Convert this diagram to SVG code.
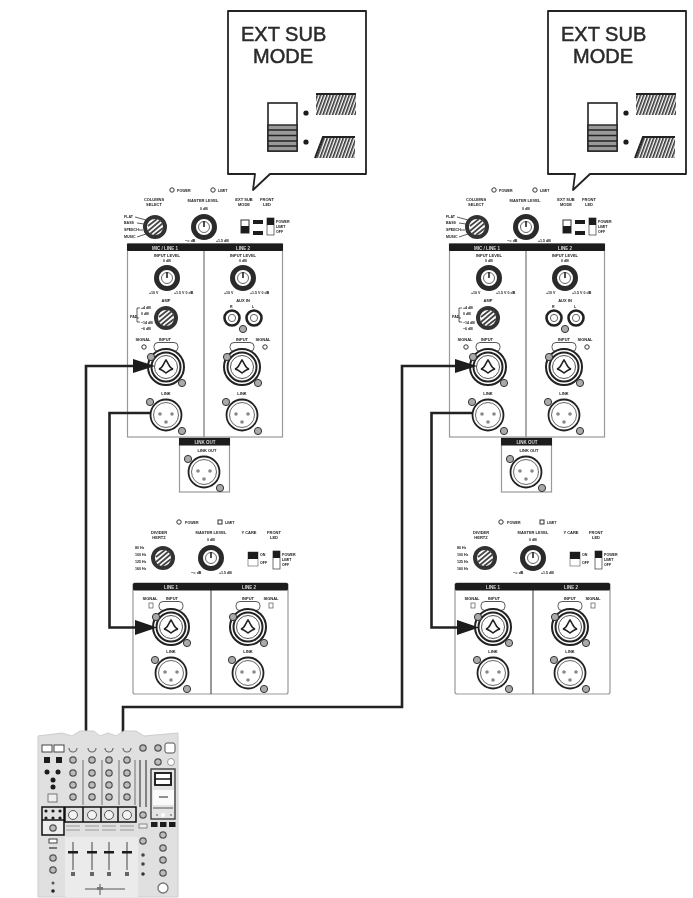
<svg xmlns="http://www.w3.org/2000/svg" width="693" height="898" viewBox="0 0 693 898">
<style>
text{font-family:"Liberation Sans",Arial,sans-serif;fill:#222}
.t{font-size:4px;font-weight:bold;text-anchor:middle}
.l{font-size:3.6px;font-weight:bold}
.w{font-size:4.5px;font-weight:bold;text-anchor:middle;fill:#ddd}
.h{font-size:20px;fill:#2a2a2a;stroke:#2a2a2a;stroke-width:.5}
.wire{fill:none;stroke:#222;stroke-width:2.6}
.box{fill:#fff;stroke:#999;stroke-width:1.2}
.ln{fill:none;stroke:#333;stroke-width:.8}
.bk{fill:#1a1a1a}
</style>
<defs>
<filter id="soft" x="-5%" y="-5%" width="110%" height="110%"><feGaussianBlur stdDeviation="0.55"/></filter>
<filter id="mild" x="-5%" y="-5%" width="110%" height="110%"><feGaussianBlur stdDeviation="0.35"/></filter>
<pattern id="hatch" width="3" height="3" patternUnits="userSpaceOnUse" patternTransform="rotate(20)"><rect width="3" height="3" fill="#fff"/><rect width="1.6" height="3" fill="#333"/></pattern>
<g id="knobA"><circle r="10.5" fill="#fff" stroke="#2a2a2a" stroke-width="5"/><circle r="5.5" fill="#fff" stroke="#666" stroke-width="1"/><path d="M0-6V0" stroke="#222" stroke-width="1.6"/></g>
<g id="knobS"><circle r="10" fill="#fff" stroke="#333" stroke-width="4"/><path d="M-7 4L6-7M-5 7L8-4M-7-1L2-8M-1 8L8 1" stroke="#444" stroke-width="1.7"/></g>
<g id="screw"><circle r="3.6" fill="#aaa" stroke="#333" stroke-width="1"/></g>
<g id="combo">
<circle r="18" fill="#fff" stroke="#222" stroke-width="2"/><circle r="14.5" fill="#fff" stroke="#222" stroke-width="2"/><circle r="11.5" fill="#fff" stroke="#555" stroke-width="1"/>
<path d="M-7 2C-3 1-3-3 0-7C3-3 3 1 7 2C3 3 2 5 0 6C-2 5-3 3-7 2Z" fill="#fff" stroke="#222" stroke-width="1.5"/>
<use href="#screw" x="-15" y="-10"/><use href="#screw" x="16" y="16"/></g>
<g id="xlr">
<circle r="15.5" fill="#fff" stroke="#222" stroke-width="1.8"/><circle r="12.5" fill="#fff" stroke="#666" stroke-width="1"/>
<circle cx="-6" cy="-1" r="1.8" fill="#888"/><circle cx="6" cy="-1" r="1.8" fill="#888"/><circle cy="7" r="1.8" fill="#888"/>
<use href="#screw" x="-16" y="-13"/><use href="#screw" x="16" y="16"/></g>
<g id="rca"><circle r="7.5" fill="#fff" stroke="#222" stroke-width="2.6"/><circle r="3.6" fill="#fff" stroke="#666" stroke-width="1"/></g>
<rect id="oval" x="-12" y="-4.5" width="24" height="9" rx="4" fill="#fff" stroke="#555" stroke-width="1"/>
<g id="led"><circle r="2.2" fill="#fff" stroke="#333" stroke-width="1"/></g>
<g id="callout">
<path d="M228 11H366V174H270L253 190L255 174H228Z" fill="#fff" stroke="#222" stroke-width="1.8" stroke-linejoin="round"/>
<text class="h" x="241" y="41">EXT SUB</text><text class="h" x="253" y="63">MODE</text>
<rect x="268" y="103" width="29" height="48" fill="#fff" stroke="#222" stroke-width="1.6"/>
<rect x="268" y="125" width="29" height="26" fill="#999" stroke="#222" stroke-width="1.4"/>
<path d="M268 130H297M268 135.500H297M268 141H297M268 146H297" stroke="#222" stroke-width="1.3"/>
<circle cx="306" cy="113" r="2.600" class="bk"/><circle cx="306" cy="142" r="2.600" class="bk"/>
<path d="M316 94H356V115H316Z" fill="url(#hatch)"/><path d="M316 94H356" stroke="#222" stroke-width="2"/>
<path d="M323 137H355V158H315Z" fill="url(#hatch)"/><path d="M355 137H323L315 158" fill="none" stroke="#222" stroke-width="2"/>
</g>
<g id="rig">
<g filter="url(#soft)">
<use href="#led" x="172" y="190"/><text class="l" x="177" y="191.500">POWER</text>
<use href="#led" x="213" y="190"/><text class="l" x="218" y="191.500">LIMIT</text>
<text class="t" x="154" y="201">COLUMNS</text><text class="t" x="154" y="206">SELECT</text>
<text class="l" x="124" y="218">FLAT</text><text class="l" x="124" y="224">BASS</text><text class="l" x="124" y="231">SPEECH</text><text class="l" x="124" y="238">MUSIC</text>
<path class="ln" d="M135 217L146 220M137 223L144 224M139 230L143 230M137 237L146 234"/>
<use href="#knobS" x="155" y="227"/>
<text class="t" x="203" y="202">MASTER LEVEL</text><text class="l" x="200" y="210">0 dB</text>
<use href="#knobA" x="204" y="227"/>
<text class="l" x="185" y="242">−∞ dB</text><text class="l" x="216" y="242">+1.5 dB</text>
<text class="t" x="244" y="201">EXT SUB</text><text class="t" x="244" y="206">MODE</text>
<text class="t" x="267" y="201">FRONT</text><text class="t" x="267" y="206">LED</text>
<rect x="241" y="220" width="8" height="13" fill="#fff" stroke="#333"/><rect x="241" y="226" width="8" height="7" class="bk"/>
<rect x="253" y="220" width="10" height="4" class="bk"/><rect x="253" y="231" width="10" height="4" class="bk"/>
<rect x="267" y="218" width="7" height="17" fill="#fff" stroke="#333" stroke-width=".7"/><rect x="267" y="218" width="7" height="7" class="bk"/>
<text class="l" x="276" y="223">POWER</text><text class="l" x="276" y="228">LIMIT</text><text class="l" x="276" y="233">OFF</text>
</g>
<g filter="url(#soft)">
<rect class="box" x="127.500" y="244" width="155" height="193"/>
<path d="M204 244V437" stroke="#888" stroke-width="1.400"/>
<rect x="127" y="243.500" width="156" height="7.500" rx="1" class="bk"/>
<text class="w" x="165" y="249.500">MIC / LINE 1</text><text class="w" x="243" y="249.500">LINE 2</text>
<text class="t" x="167" y="256.500">INPUT LEVEL</text><text class="l" x="163" y="262">0 dB</text>
<use href="#knobA" x="167" y="278"/>
<text class="l" x="149" y="294">+10 V</text><text class="l" x="174" y="294">+1.5 V 0 dB</text>
<text class="t" x="243" y="256.500">INPUT LEVEL</text><text class="l" x="239" y="262">0 dB</text>
<use href="#knobA" x="243" y="278"/>
<text class="l" x="224" y="294">+10 V</text><text class="l" x="250" y="294">+1.5 V 0 dB</text>
<text class="t" x="166" y="302">AMP</text>
<text class="l" x="130" y="318">PAD</text><path class="ln" d="M139 318H137V308H140M137 318V322H140"/>
<text class="l" x="141" y="309">+4 dB</text><text class="l" x="141" y="315">0 dB</text><text class="l" x="141" y="324">−14 dB</text><text class="l" x="141" y="330">−6 dB</text>
<use href="#knobS" x="166" y="318"/>
<text class="t" x="243" y="302">AUX IN</text><text class="l" x="230" y="308">R</text><text class="l" x="252" y="308">L</text>
<use href="#rca" x="232" y="318"/><use href="#rca" x="254" y="318"/><use href="#screw" x="243" y="329"/>
<text class="t" x="143" y="340.500">SIGNAL</text><use href="#led" x="144" y="347"/>
<text class="t" x="165" y="340.500">INPUT</text><use href="#oval" x="166" y="347"/>
<use href="#combo" x="166" y="367"/>
<text class="t" x="242" y="340.500">INPUT</text><use href="#oval" x="242" y="347"/>
<text class="t" x="263" y="340.500">SIGNAL</text><use href="#led" x="265" y="347"/>
<use href="#combo" x="242" y="367"/>
<text class="t" x="166" y="395">LINK</text><use href="#xlr" x="166" y="415"/>
<text class="t" x="242" y="395">LINK</text><use href="#xlr" x="242" y="415"/>
</g>
<g filter="url(#soft)">
<rect class="box" x="179.500" y="438" width="50" height="54"/>
<rect x="179" y="438" width="51" height="7.500" class="bk"/>
<text class="w" x="205" y="444">LINK OUT</text>
<text class="t" x="207" y="451.500">LINK OUT</text>
<use href="#xlr" x="204" y="472"/>
</g>
<g filter="url(#soft)">
<use href="#led" x="179" y="522"/><text class="l" x="185" y="523.500">POWER</text>
<rect x="218" y="520" width="4" height="4" fill="#fff" stroke="#333"/><text class="l" x="225" y="523.500">LIMIT</text>
<text class="t" x="159" y="534">DIVIDER</text><text class="t" x="159" y="539">HERTZ</text>
<text class="l" x="135" y="549">80 Hz</text><text class="l" x="135" y="556">100 Hz</text><text class="l" x="135" y="563">125 Hz</text><text class="l" x="135" y="570">160 Hz</text>
<use href="#knobS" x="163" y="558"/>
<text class="t" x="211" y="534">MASTER LEVEL</text><text class="l" x="207" y="541">0 dB</text>
<use href="#knobA" x="211" y="558"/>
<text class="l" x="191" y="574">−∞ dB</text><text class="l" x="219" y="574">+1.5 dB</text>
<text class="t" x="249" y="534">Y CARE</text>
<text class="t" x="274" y="534">FRONT</text><text class="t" x="274" y="539">LED</text>
<rect x="248" y="552" width="10" height="14" fill="#fff" stroke="#555" stroke-width=".6"/><rect x="248" y="552" width="10" height="7" class="bk"/>
<text class="l" x="260" y="556">ON</text><text class="l" x="260" y="564">OFF</text>
<rect x="273" y="551" width="7" height="18" fill="#fff" stroke="#333" stroke-width=".7"/><rect x="273" y="551" width="7" height="7" class="bk"/>
<text class="l" x="282" y="556">POWER</text><text class="l" x="282" y="561">LIMIT</text><text class="l" x="282" y="566">OFF</text>
</g>
<g filter="url(#soft)">
<rect class="box" x="133" y="583" width="155" height="111" rx="2"/>
<path d="M211 583V694" stroke="#333" stroke-width="1"/>
<rect x="133" y="583" width="155" height="7.500" rx="1.500" class="bk"/>
<text class="w" x="171" y="589">LINE 1</text><text class="w" x="249" y="589">LINE 2</text>
<text class="t" x="150" y="599.500">SIGNAL</text><rect x="149" y="603" width="4" height="5" fill="#fff" stroke="#555" stroke-width=".7"/>
<text class="t" x="172" y="599.500">INPUT</text><use href="#oval" x="171" y="606"/>
<text class="t" x="248" y="599.500">INPUT</text><use href="#oval" x="248" y="606"/>
<text class="t" x="271" y="599.500">SIGNAL</text><rect x="269" y="603" width="4" height="5" fill="#fff" stroke="#555" stroke-width=".7"/>
<use href="#combo" x="171" y="627"/><use href="#combo" x="248" y="627"/>
<text class="t" x="171" y="653">LINK</text><text class="t" x="248" y="653">LINK</text>
<use href="#xlr" x="171" y="673"/><use href="#xlr" x="248" y="673"/>
</g>
</g>
<g id="mk"><circle r="3.200" fill="#bbb" stroke="#555" stroke-width="1.200"/></g>
</defs>
<g id="callout-left" filter="url(#mild)"><use href="#callout"/></g>
<g id="callout-right" filter="url(#mild)"><use href="#callout" x="320"/></g>
<g id="rig-left"><use href="#rig"/></g>
<g id="rig-right"><use href="#rig" x="322"/></g>
<g id="connectors" filter="url(#mild)">
<path class="wire" d="M86 734V366H136"/><path d="M133 359L155 366L133 373Z" class="bk"/>
<path class="wire" d="M150 413H109.500V627.500H138"/><path d="M135 620L157 627.500L135 635Z" class="bk"/>
<path class="wire" d="M123 734V707H402V366H458"/><path d="M455 359L477 366L455 373Z" class="bk"/>
<path class="wire" d="M472 413H431.500V627.500H460"/><path d="M457 620L479 627.500L457 635Z" class="bk"/>
</g>
<g id="mixer" filter="url(#soft)">
<path d="M38 736L62 733L72 736L80 731H94L100 736L108 733L116 736L124 731H136L144 736L178 733V897H38Z" fill="#e0e0e0" stroke="#ccc"/>
<rect x="65" y="837" width="73" height="60" fill="#ebebeb"/>
<rect x="42" y="745" width="10" height="7" fill="#fff" stroke="#444"/><rect x="54" y="745" width="10" height="7" fill="#fff" stroke="#444"/>
<g class="bk"><rect x="44" y="757" width="6" height="6"/><rect x="56" y="757" width="6" height="6"/><circle cx="47" cy="772" r="2.500"/><circle cx="58" cy="772" r="2.500"/><circle cx="53" cy="780" r="2.500"/><circle cx="53" cy="787" r="2.500"/></g>
<rect x="48" y="794" width="9" height="8" fill="#eee" stroke="#777"/>
<g fill="none" stroke="#666" stroke-width="1.200"><path d="M69 748a4 4 0 0 0 8 0M88 748a4 4 0 0 0 8 0M105 748a4 4 0 0 0 8 0M123 748a4 4 0 0 0 8 0"/></g>
<g stroke="#555"><path d="M83 760V805M102 760V805M119 760V805M135 760V805" stroke-width=".8"/></g>
<use href="#mk" x="73" y="760"/><use href="#mk" x="92" y="760"/><use href="#mk" x="109" y="760"/><use href="#mk" x="127" y="760"/>
<use href="#mk" x="73" y="773"/><use href="#mk" x="92" y="773"/><use href="#mk" x="109" y="773"/><use href="#mk" x="127" y="773"/>
<use href="#mk" x="73" y="785"/><use href="#mk" x="92" y="785"/><use href="#mk" x="109" y="785"/><use href="#mk" x="127" y="785"/>
<use href="#mk" x="73" y="797"/><use href="#mk" x="92" y="797"/><use href="#mk" x="109" y="797"/><use href="#mk" x="127" y="797"/>
<path d="M42 807H64V835H42ZM42 820H64M65 807H136V822H65ZM83 807V822M101 807V822M118 807V822" fill="none" stroke="#111" stroke-width="1.500"/>
<rect x="43" y="821" width="20" height="13" fill="#eee"/>
<g class="bk"><circle cx="46" cy="811" r="1.600"/><circle cx="53" cy="811" r="1.600"/><circle cx="60" cy="811" r="1.600"/><circle cx="46" cy="818" r="1.600"/><circle cx="53" cy="818" r="1.600"/><circle cx="60" cy="818" r="1.600"/></g>
<use href="#mk" x="53" y="828"/>
<g fill="#f2f2f2" stroke="#555"><circle cx="73" cy="815" r="4.500"/><circle cx="92" cy="815" r="4.500"/><circle cx="109" cy="815" r="4.500"/><circle cx="127" cy="815" r="4.500"/></g>
<path d="M66 826H80M85 826H99M102 826H116M120 826H134M66 830H80M85 830H99M102 830H116M120 830H134" stroke="#999"/>
<g stroke="#444" stroke-width="1"><path d="M73 842V870M92 842V870M109 842V870M127 842V870"/></g>
<g class="bk"><rect x="68" y="851" width="10" height="2.500"/><rect x="87" y="851" width="10" height="2.500"/><rect x="104" y="851" width="10" height="2.500"/><rect x="122" y="851" width="10" height="2.500"/></g>
<g fill="#666"><rect x="71" y="872" width="4" height="4"/><rect x="90" y="872" width="4" height="4"/><rect x="107" y="872" width="4" height="4"/><rect x="125" y="872" width="4" height="4"/></g>
<path d="M85 889H125M100 884V895" stroke="#555"/><rect x="97" y="887" width="6" height="3" fill="#777"/>
<rect x="49" y="839" width="8" height="4" fill="#fff" stroke="#444"/><path d="M49 848H57" stroke="#777" stroke-width="2"/>
<use href="#mk" x="53" y="858"/><use href="#mk" x="53" y="870"/><circle cx="53" cy="883" r="1.500" fill="#555"/><circle cx="53" cy="891" r="1.800" fill="#222"/>
<use href="#mk" x="143" y="748"/><path d="M140 760V807M146 760V807" stroke="#444" stroke-width="1.200"/>
<use href="#mk" x="143" y="815"/><rect x="139" y="824" width="8" height="4" fill="#eee" stroke="#888"/>
<use href="#mk" x="143" y="841"/><circle cx="143" cy="855" r="1.800" fill="#444"/><circle cx="143" cy="864" r="1.800" fill="#444"/><circle cx="143" cy="874" r="1.800" fill="#333"/>
<rect x="151" y="769" width="24" height="50" fill="#e4e4e4" stroke="#333" stroke-width="1.300"/>
<rect x="155" y="773" width="16" height="12" fill="#fff" stroke="#111" stroke-width="1.800"/><path d="M155 779H171" stroke="#111" stroke-width="1.500"/>
<rect x="153" y="790" width="21" height="15" fill="#fafafa"/><path d="M159 797H168" stroke="#222" stroke-width="1"/>
<path d="M153 808H173M156 815h2M170 815h2" stroke="#555" stroke-width="1.200"/><circle cx="163" cy="815" r="2" fill="#fff"/>
<g class="bk"><rect x="151" y="822" width="6.500" height="5"/><rect x="160" y="822" width="6.500" height="5"/><rect x="169" y="822" width="6.500" height="5"/></g>
<use href="#mk" x="158" y="748"/><use href="#mk" x="158" y="762"/>
<rect x="165" y="743" width="10" height="10" rx="2" fill="#fff" stroke="#555"/><circle cx="171" cy="762" r="3.500" fill="#fff" stroke="#999"/>
<use href="#mk" x="163" y="835"/><use href="#mk" x="163" y="848"/><use href="#mk" x="163" y="860"/><use href="#mk" x="163" y="873"/>
<circle cx="163" cy="888" r="5" fill="#fff" stroke="#777" stroke-width="1.400"/>
</g>
</svg>
